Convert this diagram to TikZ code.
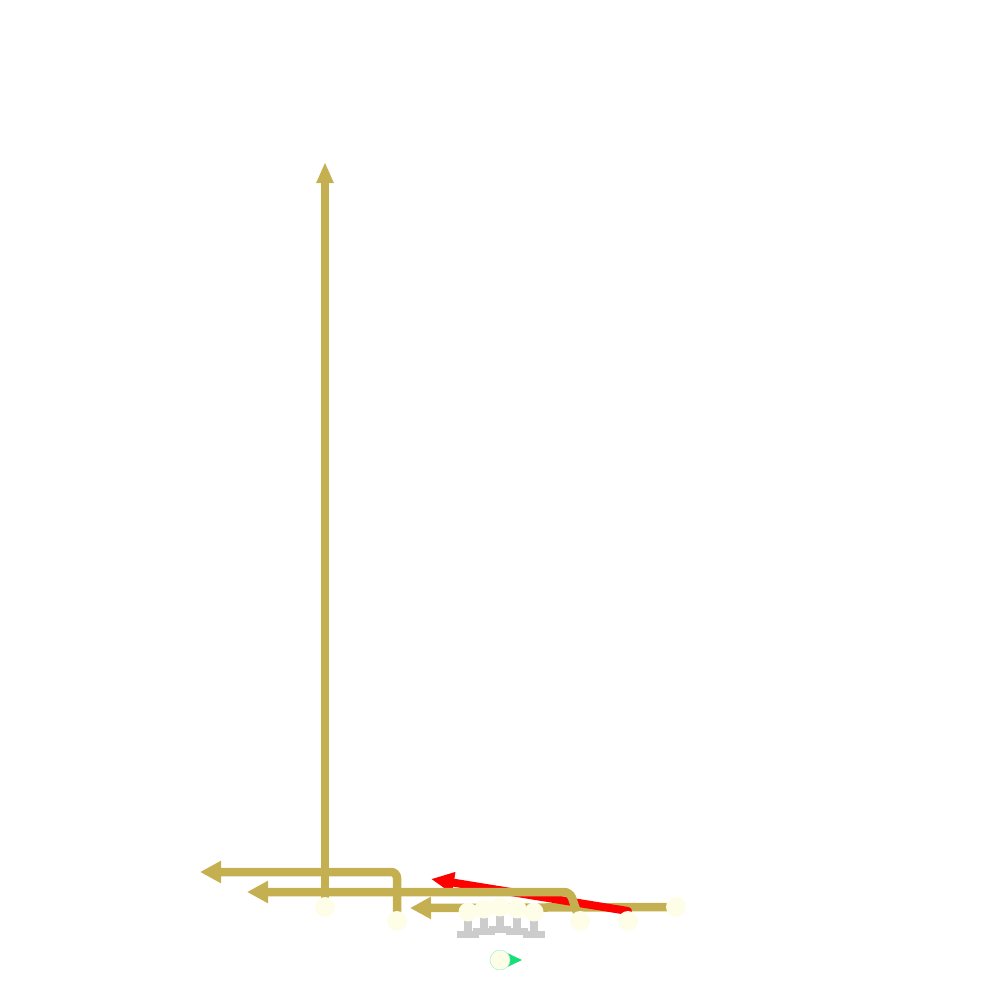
\documentclass[tikz,border=0pt]{standalone}
\usetikzlibrary{arrows.meta,calc}
\definecolor{tan}{RGB}{196,176,80}
\definecolor{cream}{RGB}{254,253,232}
\definecolor{stand}{RGB}{204,204,204}
\definecolor{mint}{RGB}{24,222,122}
\tikzset{
    track/.style={draw=tan, line width=0.085cm, rounded corners=0.06cm,
        -{Triangle[length=0.21cm, width=0.21cm]}},
    dot/.style={circle, fill=cream, inner sep=0pt, minimum size=0.2cm},
    small dot/.style={dot, minimum size=0.19cm},
}
\begin{document}
\begin{tikzpicture}[x=0.01cm, y=-0.01cm]
    \useasboundingbox (0,0) rectangle (1000,1000);

    % stops
    \coordinate (p0) at (325,907);
    \coordinate (p1) at (397,921);
    \coordinate (p2) at (580,921);
    \coordinate (p3) at (628,921);
    \coordinate (p4) at (676,907);
    \coordinate (p5) at (500,960);

    % arrow ends
    \coordinate (t0) at (325,162);
    \coordinate (t1) at (200,872);
    \coordinate (k2) at (570,892);
    \coordinate (t2) at (247,892);
    \coordinate (t3) at (410,908);
    \coordinate (tr) at (431,879);
    \coordinate (tg) at (522,960);

    \draw[track] (p4) -- (t3);
    \draw[red, line width=0.08cm, line cap=round,
        -{Triangle[length=0.23cm, width=0.2cm]}] ($(p3)+(0,-10)$) -- (tr);
    \draw[track] (p2) -- (k2) -- (t2);
    \draw[track] (p1) |- (t1);
    \draw[track, -{Triangle[length=0.21cm, width=0.16cm]}] (p0) -- (t0);
    \draw[mint, line width=0.01cm, -{Triangle[length=0.14cm, width=0.13cm]}] (p5) -- (tg);

    % stands
    \foreach \x/\y [count=\i] in {468/912, 484/909, 500/907, 517/909, 534/912} {
        \fill[stand] (\x-4,\y+8) rectangle (\x+4,\y+19);
        \fill[stand] (\x-11,\y+19) rectangle (\x+11,\y+26);
        \node[small dot] (s\i) at (\x,\y) {};
    }

    \node[dot] (d0) at (p0) {};
    \node[dot] (d1) at (p1) {};
    \node[dot] (d2) at (p2) {};
    \node[dot] (d3) at (p3) {};
    \node[dot] (d4) at (p4) {};
    \node[dot, draw=mint!40, line width=0.005cm] (d5) at (p5) {};
\end{tikzpicture}
\end{document}
